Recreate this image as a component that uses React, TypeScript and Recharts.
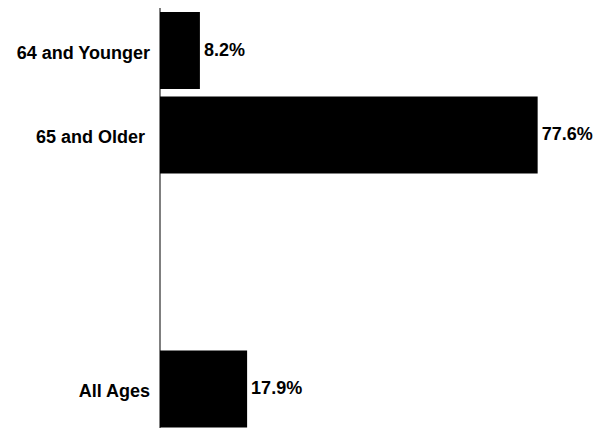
import { BarChart, Bar, XAxis, YAxis, LabelList } from "recharts";

// age groups, two empty rows sit between "65 and Older" and "All Ages"
const groups = ["64 and Younger", "65 and Older\u00a0", "", " ", "All Ages"];
const shares = [8.2, 77.6, null, null, 17.9];

const data = groups.map((g, i) => ({ group: g, share: shares[i] }));

const font = "'Liberation Sans', Arial, sans-serif";

export default function App() {
  return (
    <div style={{ width: 597, height: 428, overflow: "hidden", background: "#fff" }}>
      <style>{"body{margin:0;overflow:hidden}"}</style>
      <BarChart
        width={598}
        height={431}
        data={data}
        layout="vertical"
        margin={{ top: 8, right: 0, bottom: 0, left: 0 }}
      >
        <XAxis type="number" domain={[0, 90]} hide />
        <YAxis
          type="category"
          dataKey="group"
          width={160}
          axisLine={{ stroke: "#000", strokeWidth: 1 }}
          tickLine={false}
          tickMargin={4}
          interval={0}
          tick={{ fill: "#000", fontSize: 18, fontWeight: 700, fontFamily: font, dy: 2 }}
        />
        <Bar dataKey="share" fill="#000" barSize={77} isAnimationActive={false}>
          <LabelList
            dataKey="share"
            position="right"
            offset={4}
            formatter={(v: any) => (v == null ? "" : `${v}%`)}
            style={{ fill: "#000", fontSize: 18, fontWeight: 700, fontFamily: font }}
            dy={-1}
          />
        </Bar>
      </BarChart>
    </div>
  );
}
